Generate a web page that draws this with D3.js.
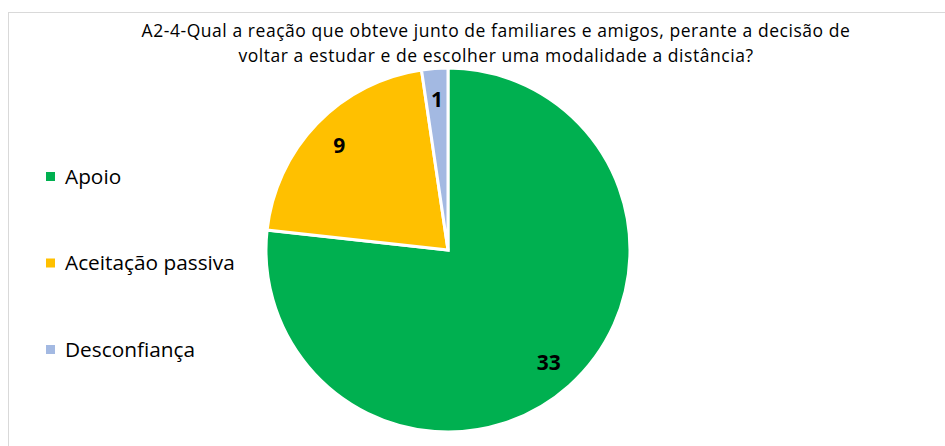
<!DOCTYPE html>
<html>
<head>
<meta charset="utf-8">
<script src="https://cdn.jsdelivr.net/npm/d3@7"></script>
<style>
  body { margin: 0; background: #fff; }
  svg { display: block; }
  text { font-family: "Open Sans", Lato, sans-serif; }
</style>
</head>
<body>
<div id="chart"></div>
<script>
// data
var categories = ["Apoio", "Aceitação passiva", "Desconfiança"];
var counts = [33, 9, 1];
var colors = ["#00B050", "#FFC000", "#A3B9E2"];
var titleLines = [
  "A2-4-Qual a reação que obteve junto de familiares e amigos, perante a decisão de",
  "voltar a estudar e de escolher uma modalidade a distância?"
];

var width = 945, height = 446;
var cx = 448, cy = 250, radius = 182;

var svg = d3.select("#chart")
  .append("svg")
  .attr("width", width)
  .attr("height", height);

// chart frame (only top and left show in the picture)
svg.append("rect")
  .attr("x", 8.5)
  .attr("y", 12.5)
  .attr("width", 960)
  .attr("height", 460)
  .style("fill", "none")
  .style("stroke", "#d9d9d9")
  .style("stroke-width", 1);

// title
svg.append("g").selectAll("text")
  .data(titleLines)
  .enter().append("text")
  .attr("x", 496)
  .attr("y", function(d, i) { return 37 + i * 24.5; })
  .attr("text-anchor", "middle")
  .style("font-size", "17.5px")
  .style("letter-spacing", "0.55px")
  .style("fill", "#000")
  .text(function(d) { return d; });

var data = categories.map(function(c, i) { return { name: c, value: counts[i], color: colors[i] }; });

var pie = d3.pie()
  .sort(null)
  .value(function(d) { return d.value; });

var arc = d3.arc()
  .innerRadius(0)
  .outerRadius(radius);

var labelArc = d3.arc()
  .innerRadius(radius * 0.83)
  .outerRadius(radius * 0.83);

var g = svg.append("g")
  .attr("transform", "translate(" + cx + "," + cy + ")");

var arcs = pie(data);

g.selectAll(".slice")
  .data(arcs)
  .enter().append("path")
  .attr("class", "slice")
  .attr("d", arc)
  .style("fill", function(d) { return d.data.color; })
  .style("stroke", "#fff")
  .style("stroke-width", 3)
  .style("stroke-linejoin", "miter");

g.selectAll(".lbl")
  .data(arcs)
  .enter().append("text")
  .attr("class", "lbl")
  .attr("transform", function(d) { return "translate(" + labelArc.centroid(d) + ")"; })
  .attr("text-anchor", "middle")
  .attr("dy", "0.36em")
  .style("font-size", "21px")
  .style("font-weight", "bold")
  .style("fill", "#000")
  .text(function(d) { return d.data.value; });

// legend
var legend = svg.append("g").selectAll(".leg")
  .data(data)
  .enter().append("g")
  .attr("class", "leg")
  .attr("transform", function(d, i) { return "translate(46," + (176 + i * 86.5) + ")"; });

legend.append("rect")
  .attr("x", 0)
  .attr("y", -4)
  .attr("width", 9)
  .attr("height", 9)
  .style("fill", function(d) { return d.color; });

legend.append("text")
  .attr("x", 19)
  .attr("dy", "0.36em")
  .style("font-size", "20.8px")
  .style("fill", "#000")
  .text(function(d) { return d.name; });
</script>
</body>
</html>
